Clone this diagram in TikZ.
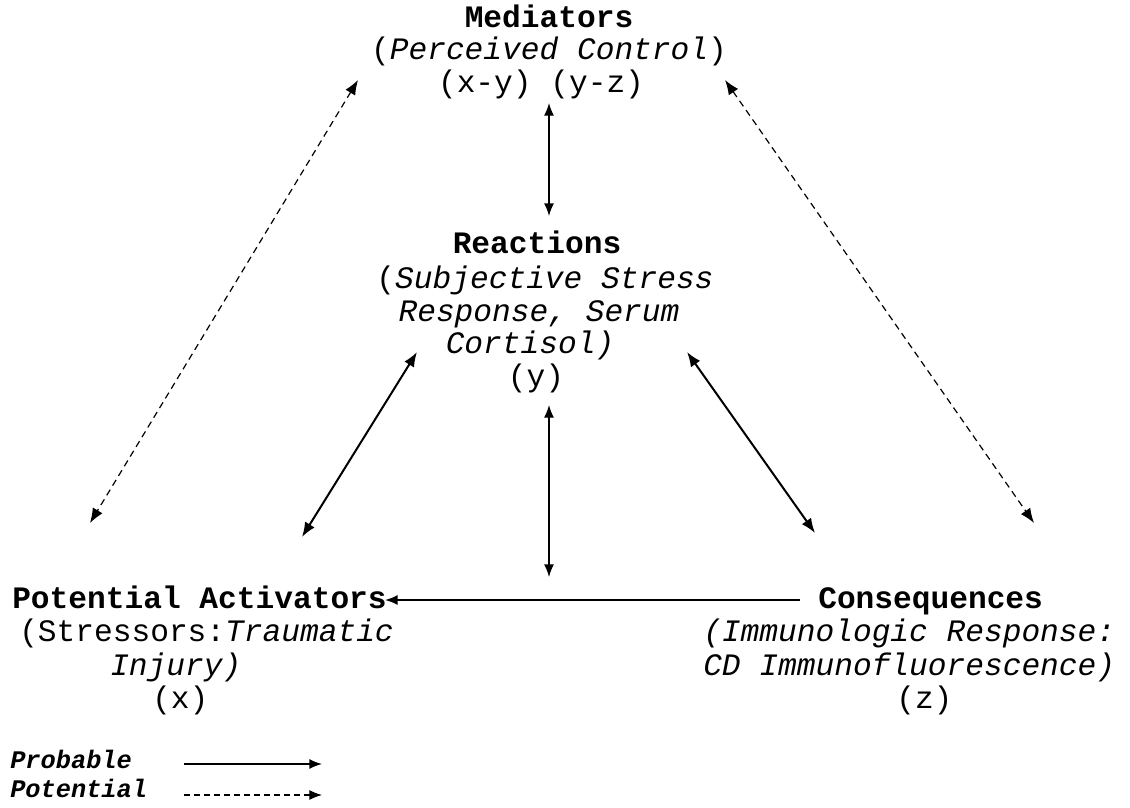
\documentclass[tikz,border=0pt]{standalone}
\usepackage{fontspec}
\setmainfont{Liberation Mono}
\usetikzlibrary{arrows.meta}
\begin{document}
\begin{tikzpicture}[x=0.75pt,y=-0.75pt,
  txt/.style={font=\fontsize{23.4}{25}\selectfont, inner sep=0pt, anchor=base},
  lefttxt/.style={txt, anchor=base west},
  keytxt/.style={font=\fontsize{19}{20}\selectfont\bfseries\itshape, inner sep=0pt, anchor=base west},
  tip/.tip={Latex[length=11pt,width=8.5pt]},
  smalltip/.tip={Latex[length=9.5pt,width=7.5pt]},
  solidarrow/.style={line width=1.5pt, {tip}-{tip}},
  thinarrow/.style={line width=1pt, {smalltip}-{smalltip}},
  dasharrow/.style={line width=0.9pt, dash pattern=on 5pt off 3.5pt, {tip}-{tip}},
]
\useasboundingbox (0,0) rectangle (1130,807);

% Mediators
\node[txt] (med1) at (549,27) {\bfseries Mediators};
\node[txt] (med2) at (549,59) {(\textit{Perceived Control})};
\node[txt] (med3) at (541,92) {(x-y) (y-z)};

% Reactions
\node[txt] (rea1) at (537,253) {\bfseries Reactions};
\node[txt] (rea2) at (545,288) {(\textit{Subjective Stress}};
\node[txt] (rea3) at (539,321) {\textit{Response, Serum}};
\node[txt] (rea4) at (530,353) {\textit{Cortisol)}};
\node[txt] (rea5) at (536,386) {(y)};

% Potential activators
\node[lefttxt] (act1) at (12,608) {\bfseries Potential Activators};
\node[lefttxt] (act2) at (19,641) {(Stressors:\textit{Traumatic}};
\node[lefttxt] (act3) at (110,675) {\textit{Injury)}};
\node[lefttxt] (act4) at (152,708) {(x)};

% Consequences
\node[lefttxt] (con1) at (818,608) {\bfseries Consequences};
\node[lefttxt] (con2) at (703,641) {\textit{(Immunologic Response:}};
\node[lefttxt] (con3) at (703,675) {\textit{CD Immunofluorescence)}};
\node[lefttxt] (con4) at (896,708) {(z)};

% Connector ends
\coordinate (mT) at (549,103);
\coordinate (rT) at (549,216);
\coordinate (rB) at (549,405);
\coordinate (hM) at (549,577);
\coordinate (rL) at (417,352);
\coordinate (aR) at (302,537);
\coordinate (rR) at (687,352);
\coordinate (cL) at (815,533);
\coordinate (mL) at (358,80);
\coordinate (aL) at (90,523);
\coordinate (mR) at (725,80);
\coordinate (cR) at (1034,523);
\coordinate (cW) at (800,600);
\coordinate (aE) at (385,600);

\draw[thinarrow] (mT) -- (rT);
\draw[thinarrow] (rB) -- (hM);
\draw[solidarrow] (rL) -- (aR);
\draw[solidarrow] (rR) -- (cL);
\draw[dasharrow] (mL) -- (aL);
\draw[dasharrow] (mR) -- (cR);
\draw[line width=1.2pt, -{smalltip}] (cW) -- (aE);

% Legend
\node[keytxt] (lp1) at (10,768) {Probable};
\node[keytxt] (lp2) at (10,797) {Potential};
\coordinate (l1a) at (184,764);
\coordinate (l1b) at (322,764);
\coordinate (l2a) at (184,795);
\coordinate (l2b) at (322,795);
\draw[line width=1.1pt, -{smalltip}] (l1a) -- (l1b);
\draw[line width=0.9pt, dash pattern=on 4.5pt off 3pt, -{smalltip}] (l2a) -- (l2b);
\end{tikzpicture}
\end{document}
